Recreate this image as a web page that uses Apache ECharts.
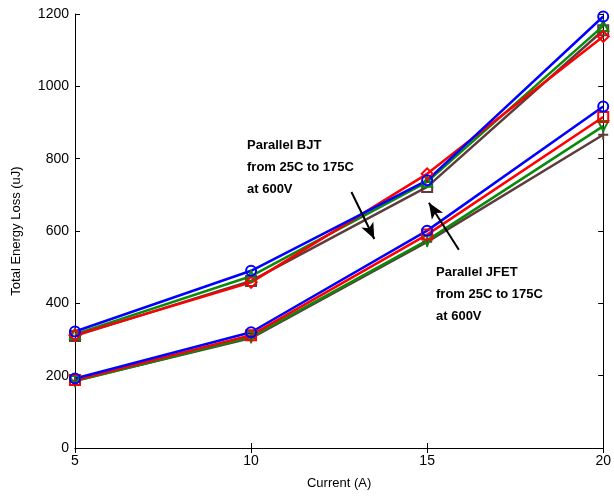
<!DOCTYPE html>
<html><head><meta charset="utf-8">
<script src="https://cdn.jsdelivr.net/npm/echarts@6/dist/echarts.min.js"></script>
<style>html,body{margin:0;padding:0;background:#fff}#c{width:614px;height:496px}</style>
</head><body><div id="c"></div>
<script>
const current = [5, 10, 15, 20];
const yTicks = [0, 200, 400, 600, 800, 1000, 1200];
// Parallel BJT, 25C..175C
const bjtBrown = [310, 462, 722, 1155];
const bjtGreen = [315, 475, 736, 1167];
const bjtRed   = [312, 458, 758, 1138];
const bjtBlue  = [322, 490, 740, 1193];
// Parallel JFET, 25C..175C
const jfetBrown = [186, 304, 570, 866];
const jfetGreen = [185, 307, 574, 890];
const jfetRed   = [188, 312, 590, 915];
const jfetBlue  = [192, 320, 601, 944];
// annotation arrows (data coordinates)
const bjtArrow  = [[12.85, 708], [13.5, 578]];
const jfetArrow = [[15.9, 548], [15.05, 678]];

const C = {blue:'#0000ff', red:'#ff0000', green:'#0a8a0a', brown:'#5e3c3c'};
const plus = 'path://M4,0L6,0L6,4L10,4L10,6L6,6L6,10L4,10L4,6L0,6L0,4L4,4Z';
function mk(name, data, color, symbol, size, extra) {
  const filled = symbol.startsWith('path');
  return Object.assign({
    name, type:'line', data: current.map((x,i)=>[x,data[i]]),
    symbol, symbolSize: size, showAllSymbol:true,
    lineStyle:{color, width:2.5},
    itemStyle:{color: filled ? color : 'rgba(0,0,0,0)', borderColor:color, borderWidth: filled ? 0 : 2},
    z: 3, animation:false
  }, extra||{});
}
const chart = echarts.init(document.getElementById('c'));
const axisTxt = {color:'#000', fontFamily:'Liberation Sans', fontSize:14};
chart.setOption({
  animation:false,
  grid:{left:75, right:10, top:14, bottom:48},
  xAxis:[{type:'value', min:5, max:20, interval:5, position:'bottom',
    axisLine:{lineStyle:{color:'#000'}}, axisTick:{inside:true, length:5, lineStyle:{color:'#000'}},
    axisLabel:Object.assign({margin:6}, axisTxt), splitLine:{show:false},
    name:'Current (A)', nameLocation:'middle', nameGap:29, nameTextStyle:Object.assign({}, axisTxt, {fontSize:13})},
   {type:'value', min:5, max:20, interval:5, position:'top',
    axisLine:{lineStyle:{color:'#000'}}, axisTick:{inside:true, length:5, lineStyle:{color:'#000'}},
    axisLabel:{show:false}, splitLine:{show:false}}],
  yAxis:[{type:'value', min:0, max:1200, interval:200,
    axisLine:{show:true, lineStyle:{color:'#000'}}, axisTick:{show:true, inside:true, length:5, lineStyle:{color:'#000'}},
    axisLabel:Object.assign({margin:6, formatter: v => String(v)}, axisTxt), splitLine:{show:false},
    name:'Total Energy Loss (uJ)', nameLocation:'middle', nameGap:52, nameTextStyle:Object.assign({}, axisTxt, {fontSize:13})},
   {type:'value', min:0, max:1200, interval:200, position:'right',
    axisLine:{show:true, lineStyle:{color:'#000'}}, axisTick:{show:true, inside:true, length:5, lineStyle:{color:'#000'}},
    axisLabel:{show:false}, splitLine:{show:false}}],
  series:[
    mk('BJT 175C', bjtBrown, C.brown, 'rect', 10),
    mk('BJT 125C', bjtGreen, C.green, 'triangle', 10),
    mk('BJT 75C', bjtRed, C.red, 'diamond', 11),
    mk('BJT 25C', bjtBlue, C.blue, 'circle', 10),
    mk('JFET 175C', jfetBrown, C.brown, plus, 10),
    mk('JFET 125C', jfetGreen, C.green, 'triangle', 10, {symbolRotate:180}),
    mk('JFET 75C', jfetRed, C.red, 'rect', 10),
    mk('JFET 25C', jfetBlue, C.blue, 'circle', 10),
    {type:'line', data:[], silent:true, animation:false,
     markLine:{silent:true, symbol:['none','arrow'], symbolSize:[10,16], label:{show:false},
       lineStyle:{color:'#000', width:2, type:'solid'},
       data:[[{coord:bjtArrow[0]},{coord:bjtArrow[1]}],[{coord:jfetArrow[0]},{coord:jfetArrow[1]}]]}}
  ],
  graphic:[
    {type:'text', left:247, top:134, style:{text:'Parallel BJT\nfrom 25C to 175C\nat 600V', font:'bold 13px "Liberation Sans"', fill:'#000', lineHeight:22}},
    {type:'text', left:436, top:261, style:{text:'Parallel JFET\nfrom 25C to 175C\nat 600V', font:'bold 13px "Liberation Sans"', fill:'#000', lineHeight:22}}
  ]
});
</script></body></html>
